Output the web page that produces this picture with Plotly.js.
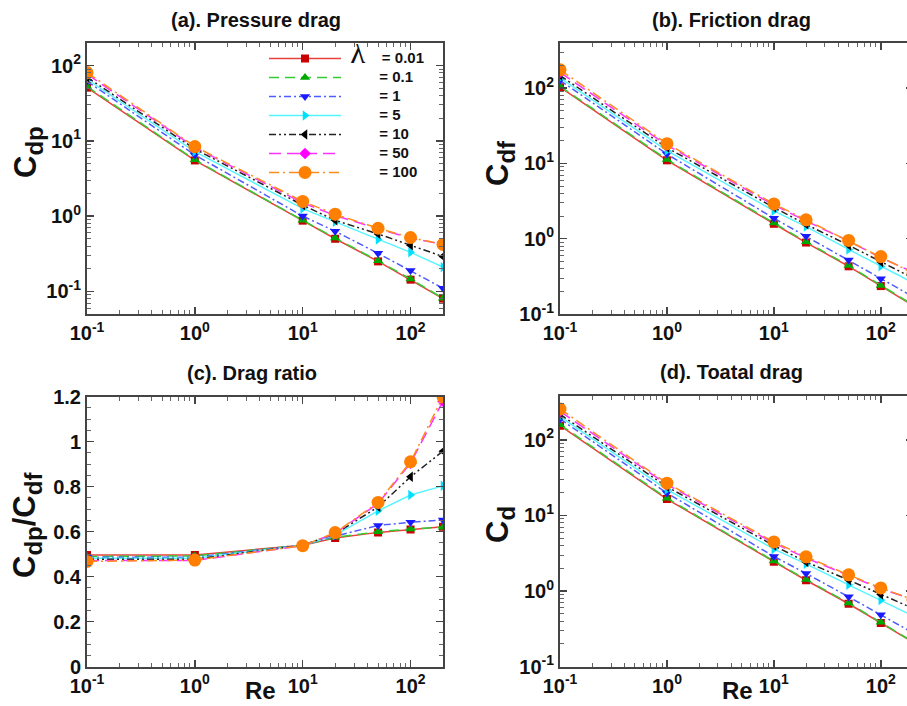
<!DOCTYPE html>
<html>
<head>
<meta charset="utf-8">
<script src="https://cdn.plot.ly/plotly-3.0.1.min.js"></script>
<style>
html, body { margin: 0; padding: 0; overflow: hidden; background: #fff; }
#chart { width: 920px; height: 706px; }
</style>
</head>
<body>
<div id="chart"></div>
<script>
// ---- data ----
var re = [0.1, 1, 10, 20, 50, 100, 200];
var lambdaLabels = ['= 0.01', '= 0.1', '= 1', '= 5', '= 10', '= 50', '= 100'];

// (a) pressure drag Cdp
var cdp001 = [51, 5.5, 0.87, 0.50, 0.25, 0.143, 0.080];
var cdp01  = [53, 5.6, 0.88, 0.51, 0.255, 0.146, 0.081];
var cdp1   = [62, 6.5, 1.00, 0.63, 0.32, 0.19, 0.11];
var cdp5   = [66, 7.2, 1.26, 0.84, 0.49, 0.33, 0.21];
var cdp10  = [70, 7.8, 1.40, 0.88, 0.58, 0.41, 0.29];
var cdp50  = [77, 8.2, 1.50, 1.02, 0.68, 0.51, 0.42];
var cdp100 = [81, 8.4, 1.57, 1.06, 0.69, 0.52, 0.42];

// (b) friction drag Cdf
var cdf001 = [103, 11.0, 1.58, 0.89, 0.43, 0.235, 0.13];
var cdf01  = [106, 11.3, 1.62, 0.91, 0.44, 0.24, 0.132];
var cdf1   = [127, 13.3, 1.87, 1.08, 0.52, 0.295, 0.17];
var cdf5   = [137, 14.8, 2.35, 1.45, 0.72, 0.43, 0.26];
var cdf10  = [147, 16.2, 2.60, 1.55, 0.82, 0.49, 0.30];
var cdf50  = [162, 17.5, 2.80, 1.72, 0.93, 0.56, 0.36];
var cdf100 = [175, 18.3, 2.90, 1.78, 0.95, 0.58, 0.35];

// (c) drag ratio Cdp/Cdf
var rat001 = [0.496, 0.497, 0.540, 0.572, 0.597, 0.610, 0.622];
var rat01  = [0.490, 0.492, 0.540, 0.575, 0.600, 0.612, 0.620];
var rat1   = [0.487, 0.487, 0.540, 0.580, 0.628, 0.642, 0.652];
var rat5   = [0.482, 0.482, 0.540, 0.585, 0.693, 0.763, 0.804];
var rat10  = [0.478, 0.478, 0.540, 0.590, 0.710, 0.844, 0.958];
var rat50  = [0.472, 0.472, 0.538, 0.593, 0.725, 0.905, 1.180];
var rat100 = [0.468, 0.474, 0.538, 0.596, 0.730, 0.911, 1.200];

// (d) total drag Cd
var cd001 = [154, 16.5, 2.45, 1.39, 0.68, 0.378, 0.21];
var cd01  = [159, 16.9, 2.50, 1.42, 0.695, 0.386, 0.213];
var cd1   = [189, 19.8, 2.87, 1.71, 0.84, 0.485, 0.28];
var cd5   = [203, 22.0, 3.60, 2.29, 1.21, 0.76, 0.47];
var cd10  = [217, 24.0, 4.00, 2.43, 1.40, 0.90, 0.59];
var cd50  = [238, 25.7, 4.30, 2.74, 1.61, 1.07, 0.78];
var cd100 = [256, 26.7, 4.47, 2.84, 1.64, 1.10, 0.77];

var logTickVals = [0.1, 1, 10, 100];
var logTickText = ['10<sup>-1</sup>', '10<sup>0</sup>', '10<sup>1</sup>', '10<sup>2</sup>'];
var ratioTickVals = [0, 0.2, 0.4, 0.6, 0.8, 1, 1.2];
var ratioTickText = ['0', '0.2', '0.4', '0.6', '0.8', '1', '1.2'];

// ---- styles ----
var styles = [
  {line: '#e8403a', dash: 'solid',                  marker: 'square',         mcolor: '#c80000', size: 8,  width: 1.5},
  {line: '#33cc33', dash: '10px,6px',               marker: 'triangle-up',    mcolor: '#00a800', size: 9,  width: 1.5},
  {line: '#4f5cff', dash: '7px,3px,2px,3px',        marker: 'triangle-down',  mcolor: '#1a1aff', size: 9,  width: 1.5},
  {line: '#55f5ff', dash: 'solid',                  marker: 'triangle-right', mcolor: '#00e0ff', size: 9,  width: 1.4},
  {line: '#222222', dash: '7px,3px,2px,3px,2px,3px',marker: 'triangle-left',  mcolor: '#000000', size: 9,  width: 1.5},
  {line: '#ff33ff', dash: '12px,6px',               marker: 'diamond',        mcolor: '#ff00ff', size: 9,  width: 1.5},
  {line: '#ff8c1a', dash: '10px,4px,2px,4px',       marker: 'circle',         mcolor: '#ff8000', size: 13, width: 1.5}
];

var seriesA = [cdp001, cdp01, cdp1, cdp5, cdp10, cdp50, cdp100];
var seriesB = [cdf001, cdf01, cdf1, cdf5, cdf10, cdf50, cdf100];
var seriesC = [rat001, rat01, rat1, rat5, rat10, rat50, rat100];
var seriesD = [cd001, cd01, cd1, cd5, cd10, cd50, cd100];

// legend labels: the first one carries the λ symbol, the others are indented to line up
var nb = '\u00a0';
function legendName(i) {
  if (i === 0) {
    return '<span style="font-size:15px">' + nb + '</span>' +
      '<span style="font-family:Liberation Serif, serif;font-size:31px;font-weight:normal">λ</span>' +
      '<span style="font-size:15px">' + nb + nb + nb + nb + lambdaLabels[i] + '</span>';
  }
  return '<span style="font-size:15px">' + nb + nb + nb + nb + nb + nb + nb + nb + lambdaLabels[i] + '</span>';
}

var traces = [];
function addSet(series, xa, ya, showLegend) {
  series.forEach(function (ys, i) {
    var s = styles[i];
    traces.push({
      x: re, y: ys, xaxis: xa, yaxis: ya,
      type: 'scatter', mode: 'lines+markers',
      name: legendName(i),
      legendgroup: 'g' + i,
      showlegend: showLegend,
      line: {color: s.line, width: s.width, dash: s.dash},
      marker: {symbol: s.marker, color: s.mcolor, size: s.size}
    });
  });
}
addSet(seriesA, 'x', 'y', true);
addSet(seriesB, 'x2', 'y2', false);
addSet(seriesC, 'x3', 'y3', false);
addSet(seriesD, 'x4', 'y4', false);

var W = 920, H = 706;
function px(x) { return x / W; }
function py(y) { return 1 - y / H; }

// minor tick positions (2..9 per decade)
var minorLog = [];
for (var d = -2; d <= 3; d++) for (var k = 2; k <= 9; k++) minorLog.push(k * Math.pow(10, d));

var axisCommon = {
  showline: true, linecolor: '#444', linewidth: 2, mirror: 'ticks',
  ticks: 'inside', ticklen: 7, tickwidth: 1.5, tickcolor: '#444',
  showgrid: false, zeroline: false,
  tickfont: {family: 'Liberation Sans, Arial, sans-serif', size: 20, color: '#111', weight: 700}
};
function logAxis(domain, range, anchor) {
  return Object.assign({}, axisCommon, {
    type: 'log', domain: domain, range: range, anchor: anchor,
    tickmode: 'array', tickvals: logTickVals, ticktext: logTickText,
    minor: {tickmode: 'array', tickvals: minorLog, ticks: 'inside', ticklen: 4, tickwidth: 1, tickcolor: '#666'}
  });
}
var xLeft = [px(87), px(443)];
var xRight = [px(560), px(913)];
var yTop = [py(314), py(43)];
var yBot = [py(666.7), py(396.7)];
var xRange = [-1, Math.log10(200)];

var layout = {
  width: W, height: H,
  margin: {l: 0, r: 0, t: 0, b: 0},
  paper_bgcolor: '#fff', plot_bgcolor: '#fff',
  font: {family: 'Liberation Sans, Arial, sans-serif', color: '#111'},
  xaxis: logAxis(xLeft, xRange, 'y'),
  yaxis: logAxis(yTop, [Math.log10(0.05), Math.log10(200)], 'x'),
  xaxis2: logAxis(xRight, xRange, 'y2'),
  yaxis2: logAxis(yTop, [-1, 2.6], 'x2'),
  xaxis3: logAxis(xLeft, xRange, 'y3'),
  yaxis3: Object.assign({}, axisCommon, {
    type: 'linear', domain: yBot, range: [0, 1.2], anchor: 'x3',
    tickmode: 'array', tickvals: ratioTickVals, ticktext: ratioTickText,
    minor: {dtick: 0.05, ticks: 'inside', ticklen: 4, tickwidth: 1, tickcolor: '#666'}
  }),
  xaxis4: logAxis(xRight, xRange, 'y4'),
  yaxis4: logAxis([py(666.7), py(396)], [-1, 2.58], 'x4'),
  showlegend: true,
  legend: {
    x: px(264), y: py(44), xanchor: 'left', yanchor: 'top',
    bgcolor: 'rgba(0,0,0,0)', borderwidth: 0,
    font: {size: 10.6, family: 'Liberation Sans, Arial, sans-serif', color: '#111', weight: 700},
    itemwidth: 72, tracegroupgap: 0
  },
  annotations: []
};

function ann(text, x, y, size, extra) {
  var a = Object.assign({
    text: text, xref: 'paper', yref: 'paper', x: px(x), y: py(y),
    xanchor: 'center', yanchor: 'middle', showarrow: false,
    font: {family: 'Liberation Sans, Arial, sans-serif', size: size, color: '#111', weight: 700}
  }, extra || {});
  layout.annotations.push(a);
}
ann('(a). Pressure drag', 256, 20, 20);
ann('(b). Friction drag', 731, 20, 20);
ann('(c). Drag ratio', 252, 373, 20);
ann('(d). Toatal drag', 731, 372, 20);
var sub = function (s) { return '<sub><span style="font-size:24px">' + s + '</span></sub>'; };
ann('C' + sub('dp'), 28, 152, 31, {textangle: -90});
ann('C' + sub('df'), 500, 163, 31, {textangle: -90});
ann('C' + sub('dp') + '/C' + sub('df'), 27, 525, 31, {textangle: -90});
ann('C' + sub('d'), 500, 525, 31, {textangle: -90});
ann('Re', 260, 690, 24);
ann('Re', 737, 690, 24);

Plotly.newPlot('chart', traces, layout, {displayModeBar: false, staticPlot: true});
</script>
</body>
</html>
